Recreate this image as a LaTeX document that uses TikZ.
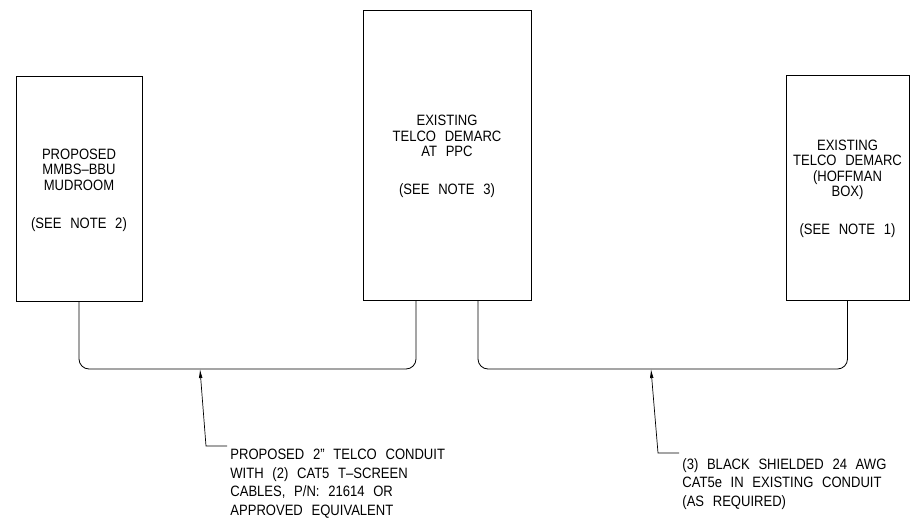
\documentclass[tikz,border=0pt]{standalone}
\usepackage{fontspec}
\setmainfont{Liberation Sans}[FakeStretch=0.87,WordSpace=2.4]
\usetikzlibrary{arrows.meta}
\begin{document}
\begin{tikzpicture}[x=1pt, y=-1pt, line width=0.8pt,
  box/.style={draw,align=center,inner sep=0pt,font=\fontsize{15}{15.5}\selectfont},
  note/.style={anchor=base west,align=left,inner sep=0pt,font=\fontsize{15}{18.5}\selectfont},
  conduit/.style={rounded corners=10pt},
  lead/.style={-{Latex[length=9pt,width=3.6pt]},line width=0.7pt}]
\useasboundingbox (0,0) rectangle (914,519);
% equipment
\node[box,minimum width=126pt,minimum height=225pt,text depth=-3pt] (mud) at (79,188.5) {PROPOSED\\MMBS--BBU\\MUDROOM\\[22.5pt](SEE NOTE 2)};
\node[box,minimum width=168pt,minimum height=290pt,text depth=-5pt] (ppc) at (447,155) {EXISTING\\TELCO DEMARC\\AT PPC\\[22.5pt](SEE NOTE 3)};
\node[box,minimum width=123pt,minimum height=225pt,text depth=-16pt] (hof) at (847.5,187.5) {EXISTING\\TELCO DEMARC\\(HOFFMAN\\BOX)\\[22.5pt](SEE NOTE 1)};
% conduit runs
\coordinate (bot) at (0,369);
\coordinate (p1) at ([xshift=-31pt]ppc.south);
\coordinate (p2) at ([xshift=31pt]ppc.south);
\draw[conduit] (mud.south) |- (p1 |- bot) -- (p1);
\draw[conduit] (p2) -- (p2 |- bot) -| (hof.south);
% notes (base = last line)
\node[note] (note1) at (230,515) {PROPOSED 2” TELCO CONDUIT\\WITH (2) CAT5 T--SCREEN\\CABLES, P/N: 21614 OR\\APPROVED EQUIVALENT};
\node[note] (note2) at (682,506) {(3) BLACK SHIELDED 24 AWG\\CAT5e IN EXISTING CONDUIT\\(AS REQUIRED)};
\coordinate (t1) at (200,369);
\coordinate (k1) at (206,446);
\coordinate (t2) at (651,369);
\coordinate (k2) at (658,453);
\draw[lead] ([xshift=-3pt]k1 -| note1.west) -- (k1) -- (t1);
\draw[lead] ([xshift=-3pt]k2 -| note2.west) -- (k2) -- (t2);
\end{tikzpicture}
\end{document}
